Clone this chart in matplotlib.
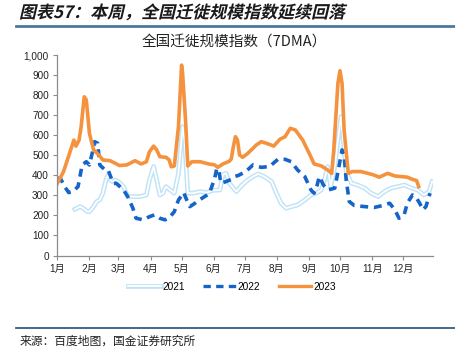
import matplotlib
matplotlib.use("Agg")
import matplotlib.pyplot as plt
from matplotlib.font_manager import FontProperties
from matplotlib.lines import Line2D
from matplotlib.patches import PathPatch
from matplotlib.textpath import TextPath
from matplotlib.transforms import Affine2D
from matplotlib.ticker import FuncFormatter

plt.rcParams["font.family"] = ["Liberation Sans", "Noto Sans CJK SC", "DejaVu Sans"]

# x = day of year (0 = Jan 1)
month_labels = ["1月", "2月", "3月", "4月", "5月", "6月", "7月", "8月", "9月", "10月", "11月", "12月"]
month_starts = [0, 31, 59, 90, 120, 151, 181, 212, 243, 273, 304, 334]

days_2021 = [17, 22, 25, 29, 31, 35, 38, 41, 44, 47, 49, 51, 53, 56, 59, 64, 68, 73, 80, 86,
             89, 93, 96, 99, 102, 105, 109, 113, 117, 121, 123, 126, 131, 138, 144, 150, 157,
             160, 163, 166, 173, 178, 184, 189, 194, 200, 207, 211, 216, 221, 226, 232, 239,
             245, 250, 255, 258, 261, 264, 268, 271, 274, 277, 279, 284, 290, 297, 303, 310,
             316, 322, 329, 335, 342, 348, 354, 359, 362]
vals_2021 = [231, 244, 236, 219, 219, 244, 269, 277, 311, 377, 402, 377, 369, 377, 369, 344,
             294, 294, 294, 302, 377, 444, 377, 302, 311, 344, 327, 311, 410, 643, 576, 311,
             311, 319, 314, 325, 327, 405, 410, 361, 319, 350, 377, 394, 407, 394, 369, 319,
             261, 236, 244, 252, 277, 302, 311, 327, 377, 444, 344, 444, 576, 693, 527, 419,
             361, 352, 336, 311, 294, 319, 336, 344, 352, 336, 327, 302, 319, 369]

days_2022 = [0, 3, 7, 11, 15, 20, 24, 28, 31, 34, 36, 39, 41, 46, 49, 54, 57, 64, 68, 73, 76,
             83, 89, 94, 99, 104, 109, 113, 117, 122, 125, 128, 133, 138, 144, 147, 152, 154,
             156, 158, 163, 168, 171, 175, 182, 189, 197, 205, 213, 220, 226, 232, 239, 245,
             248, 251, 253, 257, 261, 268, 272, 275, 277, 279, 282, 287, 297, 306, 314, 321,
             326, 330, 335, 338, 343, 346, 350, 353, 356, 360]
vals_2022 = [385, 385, 344, 314, 319, 344, 452, 468, 452, 518, 568, 560, 452, 427, 427, 360,
             360, 327, 294, 236, 186, 178, 194, 203, 186, 178, 194, 219, 277, 314, 277, 244,
             261, 280, 300, 311, 386, 435, 420, 361, 369, 380, 394, 400, 419, 452, 440, 444,
             480, 480, 468, 427, 394, 327, 311, 352, 394, 352, 327, 336, 444, 527, 502, 377,
             269, 249, 244, 240, 249, 261, 228, 186, 203, 261, 302, 294, 261, 228, 244, 311]

days_2023 = [0, 6, 16, 18, 21, 23, 26, 28, 31, 35, 40, 44, 51, 56, 60, 67, 75, 81, 86, 89, 93,
             96, 99, 105, 108, 110, 113, 117, 120, 121, 124, 126, 130, 138, 146, 152, 155, 160,
             166, 168, 170, 172, 174, 176, 179, 184, 189, 192, 197, 202, 209, 215, 220, 225,
             230, 237, 244, 248, 255, 261, 265, 267, 271, 273, 275, 277, 281, 285, 293, 300,
             305, 311, 319, 326, 332, 338, 343, 347, 349]
vals_2023 = [360, 419, 576, 546, 576, 643, 792, 776, 610, 527, 502, 477, 473, 460, 449, 452,
             473, 457, 468, 518, 546, 527, 493, 490, 477, 443, 447, 643, 950, 909, 660, 447,
             468, 468, 457, 452, 440, 457, 470, 482, 543, 593, 576, 502, 490, 510, 535, 551,
             568, 560, 546, 580, 593, 635, 626, 576, 502, 457, 447, 427, 410, 527, 859, 922,
             859, 626, 410, 419, 419, 410, 403, 391, 410, 397, 394, 391, 380, 374, 344]

c21_outer = "#bfe3f7"
c22 = "#1565c8"
c23 = "#f5923e"
axis_grey = "#8c8c8c"

fig = plt.figure(figsize=(4.55, 3.51), dpi=100)
ax = fig.add_axes([0.126, 0.272, 0.826, 0.571])

l21a, = ax.plot(days_2021, vals_2021, color=c21_outer, lw=3.4, solid_joinstyle="round")
l21b, = ax.plot(days_2021, vals_2021, color="white", lw=1.3, solid_joinstyle="round")
l22, = ax.plot(days_2022, vals_2022, color=c22, lw=2.6, linestyle=(0, (2.2, 1.6)))
l23, = ax.plot(days_2023, vals_2023, color=c23, lw=2.6, solid_joinstyle="round")

ax.set_xlim(0, 363)
ax.set_ylim(0, 1000)
ax.set_yticks(range(0, 1001, 100))
ax.yaxis.set_major_formatter(FuncFormatter(lambda v, _: f"{int(v):,}"))
ax.set_xticks(month_starts)
ax.set_xticklabels(month_labels)
for side in ("top", "right"):
    ax.spines[side].set_visible(False)
for side in ("left", "bottom"):
    ax.spines[side].set_color(axis_grey)
    ax.spines[side].set_linewidth(0.9)
ax.tick_params(axis="both", colors=axis_grey, labelcolor="#222222", labelsize=7.2,
               length=3, width=0.8, direction="out", pad=3)

ax.set_title("全国迁徙规模指数（7DMA）", fontsize=10.5, color="#222222", pad=7,
             family=["Noto Sans CJK SC", "DejaVu Sans"], x=0.47)

leg_handles = [(l21a, l21b), Line2D([], [], color=c22, lw=2.4, linestyle=(0, (2.2, 1.6))),
               Line2D([], [], color=c23, lw=2.4)]
fig.legend(leg_handles, ["2021", "2022", "2023"], loc="center",
           bbox_to_anchor=(232 / 455, 1 - 287 / 351), ncol=3, frameon=False,
           fontsize=7.3, handlelength=3.2, handletextpad=0.2, columnspacing=1.8)

# header: bold, slanted title
fp = FontProperties(family="Noto Sans CJK SC", weight="bold")
tp = TextPath((0, 0), "图表57：本周，全国迁徙规模指数延续回落", prop=fp, size=17)
tr = Affine2D().skew_deg(13, 0).translate(19, 351 - 18)
fig.patches.append(PathPatch(tp, transform=tr, color="#1a1a1a", lw=0, figure=fig))

fig.add_artist(Line2D([16 / 455, 1], [1 - 25.5 / 351] * 2, transform=fig.transFigure,
                      color="#4a7b9b", lw=2.0))
fig.add_artist(Line2D([16 / 455, 1], [1 - 328 / 351] * 2, transform=fig.transFigure,
                      color="#2f5f80", lw=1.3))
fig.text(20 / 455, 1 - 341.5 / 351, "来源：百度地图，国金证券研究所", fontsize=8.5,
         color="#222222", va="center", family=["Noto Sans CJK SC", "DejaVu Sans"])

fig.savefig("out.png", dpi=100)
